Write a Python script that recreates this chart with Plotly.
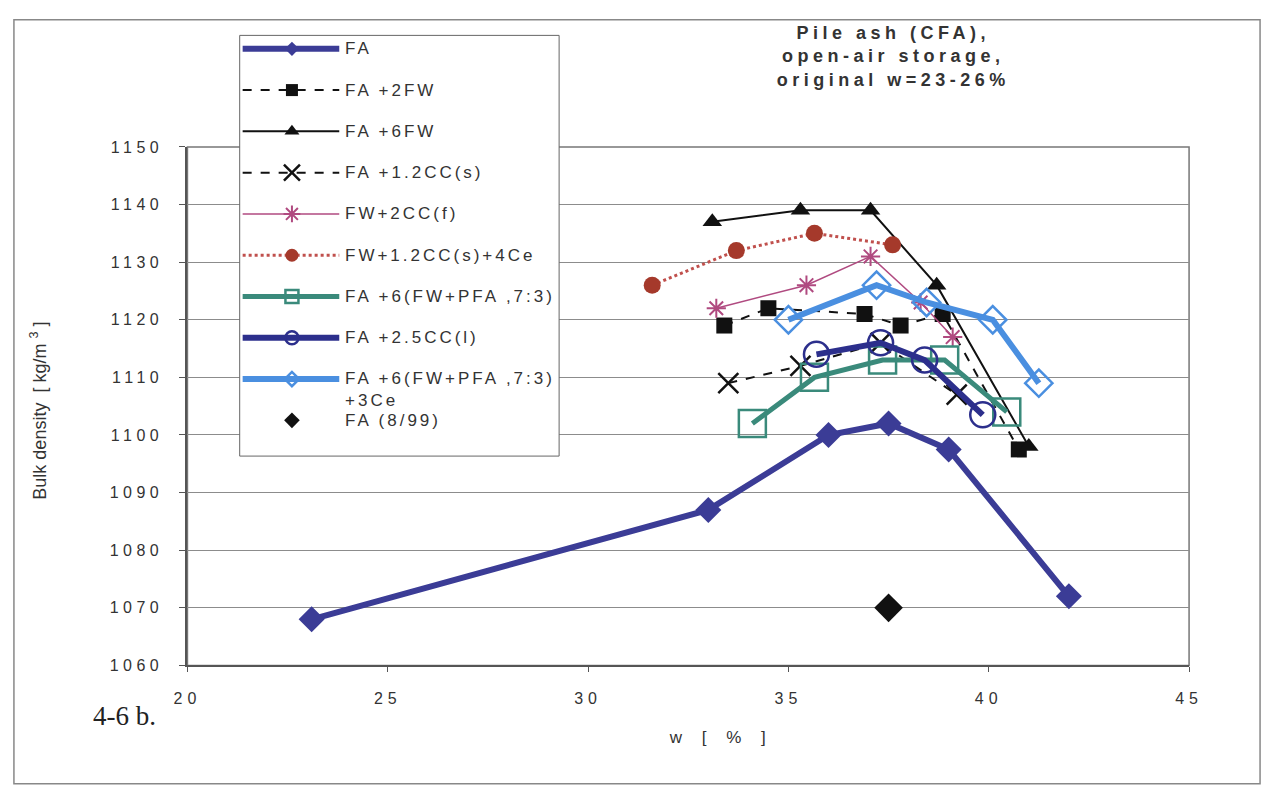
import plotly.graph_objects as go

W, H = 1273, 785

# Moisture content w [%] and bulk density [kg/m3] for each mix
fa_w = [23.1, 33.0, 36.0, 37.5, 39.0, 42.0]
fa_rho = [1068, 1087, 1100, 1102, 1097.5, 1072]

fa2fw_w = [33.4, 34.5, 36.9, 37.8, 38.85, 40.75]
fa2fw_rho = [1119, 1122, 1121, 1119, 1121, 1097.5]

fa6fw_w = [33.1, 35.3, 37.05, 38.7, 41.0]
fa6fw_rho = [1137, 1139, 1139, 1126, 1098]

facc_w = [33.5, 35.3, 37.3, 39.2]
facc_rho = [1109, 1112, 1116, 1107]

fwccf_w = [33.2, 35.45, 37.05, 38.3, 39.1]
fwccf_rho = [1122, 1126, 1131, 1123, 1117]

fwccce_w = [31.6, 33.7, 35.65, 37.6]
fwccce_rho = [1126, 1132, 1135, 1133]

pfa_w = [34.1, 35.65, 37.35, 38.9, 40.45]
pfa_rho = [1102, 1110, 1113, 1113, 1104]

cc25_w = [35.7, 37.3, 38.4, 39.85]
cc25_rho = [1114, 1116, 1113, 1103.5]

pface_w = [35.0, 37.2, 38.45, 40.1, 41.25]
pface_rho = [1120, 1126, 1123, 1120, 1109]

fa899_w = [37.5]
fa899_rho = [1070]

labels = [
    "FA", "FA +2FW", "FA +6FW", "FA +1.2CC(s)", "FW+2CC(f)",
    "FW+1.2CC(s)+4Ce", "FA +6(FW+PFA ,7:3)", "FA +2.5CC(l)",
    "FA +6(FW+PFA ,7:3)<br>+3Ce", "FA (8/99)",
]

x_ticks = [20, 25, 30, 35, 40, 45]
y_ticks = [1060, 1070, 1080, 1090, 1100, 1110, 1120, 1130, 1140, 1150]

# style per series: line, marker (plot), marker size in the legend sample
styles = [
    dict(line=dict(color="#3b3c96", width=6),
         marker=dict(symbol="diamond", size=20, color="#3b3c96"), lsize=11),
    dict(line=dict(color="#111111", width=2, dash="dash"),
         marker=dict(symbol="square", size=16, color="#111111"), lsize=12),
    dict(line=dict(color="#111111", width=2),
         marker=dict(symbol="triangle-up", size=17, color="#111111"), lsize=13),
    dict(line=dict(color="#111111", width=2, dash="dash"),
         marker=dict(symbol="x-thin-open", size=20, color="#111111",
                     line=dict(width=2.5, color="#111111")), lsize=16),
    dict(line=dict(color="#b04a80", width=1.5),
         marker=dict(symbol="asterisk-open", size=16, color="#b04a80",
                     line=dict(width=2, color="#b04a80")), lsize=14),
    dict(line=dict(color="#c0504d", width=3, dash="dot"),
         marker=dict(symbol="circle", size=17, color="#a5392b"), lsize=13),
    dict(line=dict(color="#3a8a7b", width=5),
         marker=dict(symbol="square-open", size=27, color="#3a8a7b",
                     line=dict(width=2.5, color="#3a8a7b")), lsize=13),
    dict(line=dict(color="#2c2f8c", width=6),
         marker=dict(symbol="circle-open", size=25, color="#2c2f8c",
                     line=dict(width=2.5, color="#2c2f8c")), lsize=13),
    dict(line=dict(color="#4a8fe0", width=6),
         marker=dict(symbol="diamond-open", size=21, color="#4a8fe0",
                     line=dict(width=2.5, color="#4a8fe0")), lsize=11),
    dict(line=None,
         marker=dict(symbol="diamond", size=22, color="#111111"), lsize=12),
]

series = [
    (fa_w, fa_rho), (fa2fw_w, fa2fw_rho), (fa6fw_w, fa6fw_rho),
    (facc_w, facc_rho), (fwccf_w, fwccf_rho), (fwccce_w, fwccce_rho),
    (pfa_w, pfa_rho), (cc25_w, cc25_rho), (pface_w, pface_rho),
    (fa899_w, fa899_rho),
]

fig = go.Figure()

for (xs, ys), st, name in zip(series, styles, labels):
    mode = "markers" if st["line"] is None else "lines+markers"
    kw = dict(x=xs, y=ys, mode=mode, name=name, marker=st["marker"],
              showlegend=False, xaxis="x", yaxis="y")
    if st["line"] is not None:
        kw["line"] = st["line"]
    fig.add_trace(go.Scatter(**kw))

# ---- hand-drawn legend on a pixel overlay axis ----
box_l, box_r, box_t, box_b = 234, 558, 28, 458
fig.add_trace(go.Scatter(
    x=[box_l, box_r, box_r, box_l, box_l], y=[box_t, box_t, box_b, box_b, box_t],
    mode="lines", fill="toself", fillcolor="white",
    line=dict(color="#666666", width=1), showlegend=False,
    hoverinfo="skip", xaxis="x2", yaxis="y2"))

row0, row_step = 41.7, 42.2
sample_l, sample_r, sample_mid = 237, 335, 287
text_x = 339
annotations = []

for i, (st, name) in enumerate(zip(styles, labels)):
    ry = row0 + i * row_step
    if st["line"] is not None:
        fig.add_trace(go.Scatter(
            x=[sample_l, sample_r], y=[ry, ry], mode="lines", line=st["line"],
            showlegend=False, hoverinfo="skip", xaxis="x2", yaxis="y2"))
    mk = dict(st["marker"])
    mk["size"] = st["lsize"]
    fig.add_trace(go.Scatter(
        x=[sample_mid], y=[ry], mode="markers", marker=mk,
        showlegend=False, hoverinfo="skip", xaxis="x2", yaxis="y2"))

# ---- annotations (order matters for the letter-spacing stylesheet) ----
annotations.append(dict(
    text="Bulk density  [ kg/m <sup>3</sup> ]", textangle=-90,
    x=30 / W, y=(H - 412) / H, xref="paper", yref="paper",
    xanchor="center", yanchor="middle", showarrow=False,
    font=dict(family="Liberation Sans", size=18, color="#333333")))
annotations.append(dict(
    text="4-6 b.", x=83 / W, y=(H - 724) / H, xref="paper", yref="paper",
    xanchor="left", yanchor="middle", showarrow=False,
    font=dict(family="Liberation Serif", size=27, color="#222222")))
annotations.append(dict(
    text="w [ % ]", x=722 / W, y=(H - 746) / H, xref="paper", yref="paper",
    xanchor="center", yanchor="middle", showarrow=False,
    font=dict(family="Liberation Sans", size=17, color="#333333")))
annotations.append(dict(
    text="Pile ash (CFA),<br>open-air storage,<br>original w=23-26%",
    x=897 / W, y=(H - 50) / H, xref="paper", yref="paper",
    xanchor="center", yanchor="middle", showarrow=False, align="center",
    font=dict(family="Liberation Sans", size=18, color="#333333",
              weight="bold")))

for i, name in enumerate(labels):
    ry = row0 + i * row_step
    if "<br>" in name:
        ry += 11
    annotations.append(dict(
        text=name, x=text_x / W, y=(H - ry) / H, xref="paper", yref="paper",
        xanchor="left", yanchor="middle", showarrow=False, align="left",
        font=dict(family="Liberation Sans", size=17, color="#333333")))

# outer frame of the whole figure and the plot area frame
shapes = [
    dict(type="rect", xref="paper", yref="paper",
         x0=5 / W, x1=1269 / W, y0=-0.01, y1=(H - 12) / H,
         line=dict(color="#888888", width=1.5), layer="below"),
    dict(type="rect", xref="x domain", yref="y domain", x0=0, x1=1, y0=0, y1=1,
         line=dict(color="#777777", width=1.5), layer="below"),
]

tick_font = dict(family="Liberation Sans", size=16, color="#333333")

fig.update_layout(
    width=W, height=H, margin=dict(l=0, r=0, t=0, b=0),
    paper_bgcolor="white", plot_bgcolor="rgba(0,0,0,0)",
    showlegend=False, annotations=annotations, shapes=shapes,
    xaxis=dict(domain=[181 / W, 1197 / W], range=[20, 45], tickvals=x_ticks,
               showgrid=False, zeroline=False, showline=True,
               linecolor="#555555", linewidth=2, ticks="outside", ticklen=5,
               tickcolor="#555555", ticklabelstandoff=12, tickfont=tick_font,
               anchor="y", fixedrange=True),
    yaxis=dict(domain=[(H - 672) / H, (H - 142) / H], range=[1060, 1150],
               tickvals=y_ticks, showgrid=True, gridcolor="#8c8c8c",
               gridwidth=1, zeroline=False, showline=True,
               linecolor="#555555", linewidth=2, ticks="outside", ticklen=6,
               tickcolor="#555555", ticklabelstandoff=13, tickfont=tick_font,
               anchor="x", fixedrange=True),
    xaxis2=dict(domain=[0, 1], range=[0, W], visible=False, anchor="y2",
                fixedrange=True),
    yaxis2=dict(domain=[0, 1], range=[H, 0], visible=False, anchor="x2",
                fixedrange=True),
)

# tracked (letter-spaced) lettering for ticks, legend and title
spacing = {2: 7.5, 3: 4.5}
for k in range(4, 4 + len(labels)):
    spacing[k] = 3
css = ".xtick text{letter-spacing:5px}.ytick text{letter-spacing:4.5px}"
for k, v in spacing.items():
    css += 'g.annotation[data-index="%d"] text{letter-spacing:%spx}' % (k, v)
post = ("var s=document.createElement('style');s.textContent='%s';"
        "document.head.appendChild(s);") % css

fig.write_html("out.html", post_script=post)
